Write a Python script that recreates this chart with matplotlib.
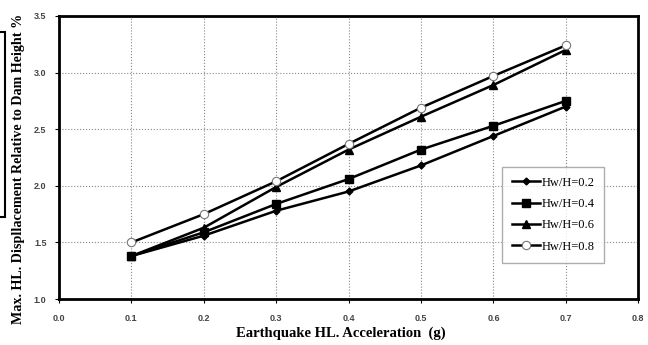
import matplotlib.pyplot as plt
from matplotlib.patches import Rectangle

acc = [0.1, 0.2, 0.3, 0.4, 0.5, 0.6, 0.7]
hw02 = [1.38, 1.56, 1.78, 1.95, 2.18, 2.44, 2.70]
hw04 = [1.38, 1.59, 1.84, 2.06, 2.32, 2.53, 2.75]
hw06 = [1.38, 1.63, 1.99, 2.32, 2.61, 2.89, 3.20]
hw08 = [1.50, 1.75, 2.04, 2.37, 2.69, 2.97, 3.24]

fig = plt.figure(figsize=(6.48, 3.45), dpi=100)
ax = fig.add_axes([0.091, 0.133, 0.894, 0.821])

ax.plot(acc, hw02, color='black', lw=1.8, marker='D', ms=3.5, label='Hw/H=0.2')
ax.plot(acc, hw04, color='black', lw=1.8, marker='s', ms=6, label='Hw/H=0.4')
ax.plot(acc, hw06, color='black', lw=1.8, marker='^', ms=6, label='Hw/H=0.6')
ax.plot(acc, hw08, color='black', lw=1.8, marker='o', ms=6, mfc='white',
        mec='#777777', mew=0.8, label='Hw/H=0.8')

ax.set_xlim(0, 0.8)
ax.set_ylim(1.0, 3.5)
ax.set_xticks([0.0, 0.1, 0.2, 0.3, 0.4, 0.5, 0.6, 0.7, 0.8])
ax.set_yticks([1.0, 1.5, 2.0, 2.5, 3.0, 3.5])
ax.set_xticklabels(['0.0', '0.1', '0.2', '0.3', '0.4', '0.5', '0.6', '0.7', '0.8'])
ax.set_yticklabels(['1.0', '1.5', '2.0', '2.5', '3.0', '3.5'])
ax.grid(True, color='#888888', ls=':', lw=0.8)
ax.tick_params(direction='out', length=3, width=0.8, labelsize=6.5)
ax.tick_params(axis='x', pad=8)
ax.tick_params(axis='y', pad=6)
for lab in ax.get_xticklabels() + ax.get_yticklabels():
    lab.set_family('Liberation Sans')
    lab.set_weight('bold')
    lab.set_color('#444444')
for s in ax.spines.values():
    s.set_linewidth(2)

ax.set_xlabel('Earthquake HL. Acceleration  (g)', family='Liberation Serif',
              weight='bold', fontsize=10.5)
ax.xaxis.set_label_coords(0.486, -0.098)
ax.set_ylabel('Max. HL. Displlacement Relative to Dam Height %', family='Liberation Serif',
              weight='bold', fontsize=10.2)
ax.yaxis.set_label_coords(-0.058, 0.46)

leg = ax.legend(loc='lower right', bbox_to_anchor=(0.952, 0.106), fancybox=False,
                prop={'family': 'Liberation Serif', 'size': 9}, handlelength=2.2,
                labelspacing=0.75, borderpad=0.8, handletextpad=0.1)
leg.get_frame().set_edgecolor('#999999')
leg.get_frame().set_linewidth(1)

# fragment of a box at the left edge
fig.patches.append(Rectangle((-0.01, 0.371), 0.017, 0.536, transform=fig.transFigure,
                             fill=False, ec='black', lw=1.5))

plt.savefig('out.png')
